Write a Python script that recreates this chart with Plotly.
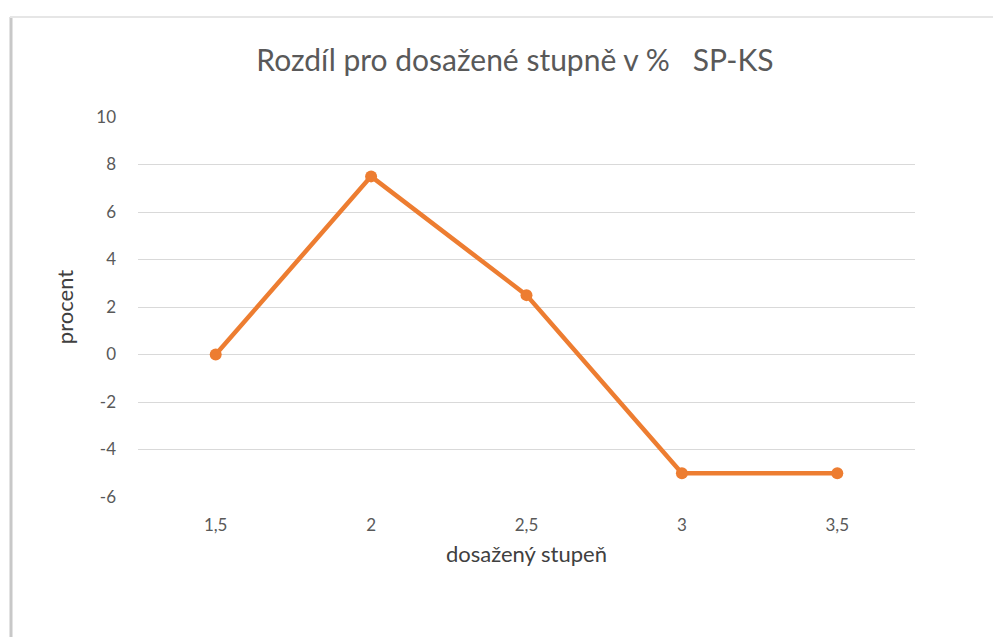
import plotly.graph_objects as go

categories = ["1,5", "2", "2,5", "3", "3,5"]
values = [0, 7.5, 2.5, -5, -5]
y_ticks = [-6, -4, -2, 0, 2, 4, 6, 8, 10]
y_tick_labels = ["-6", "-4", "-2", "0", "2", "4", "6", "8", "10"]

title_text = "Rozdíl pro dosažené stupně v %\u00a0\u00a0\u00a0SP-KS"
FONT = "Lato"
GREY = "#595959"
DARK = "#404040"

# page has an 8px body margin; figure sized to fit the window
OFF = 8
W, H = 1001 - OFF, 637 - OFF
L, T = 138 - OFF, 117 - OFF
R = W - (915 - OFF)
B = H - (497 - OFF)
pw, ph = W - L - R, H - T - B


def px(x):
    return (x - OFF - L) / pw


def py(y):
    return (H - B - (y - OFF)) / ph


fig = go.Figure()
fig.add_trace(go.Scatter(
    x=categories, y=values, mode="lines+markers",
    line=dict(color="#ED7D31", width=4.5),
    marker=dict(color="#ED7D31", size=12),
    showlegend=False, hoverinfo="x+y",
))

fig.update_layout(
    width=W, height=H,
    margin=dict(l=L, r=R, t=T, b=B),
    paper_bgcolor="white", plot_bgcolor="white",
    font=dict(family=FONT, color=GREY, size=17),
    title=dict(text=title_text, x=(515 - OFF) / W, xanchor="center",
               y=1 - (60 - OFF) / H, yanchor="middle",
               font=dict(size=30, color=GREY, family=FONT)),
    xaxis=dict(type="category", range=[-0.5, 4.5], showgrid=False, zeroline=False,
               showline=False, ticks="", ticklabelstandoff=16,
               tickfont=dict(size=17, color=GREY),
               title=dict(text="dosažený stupeň", standoff=12,
                          font=dict(size=22, color=DARK))),
    yaxis=dict(range=[-6, 10], tickvals=y_ticks, ticktext=y_tick_labels,
               showgrid=True, gridcolor="#d9d9d9", gridwidth=1.4,
               zeroline=False, showline=False, ticks="", ticklabelstandoff=21,
               tickfont=dict(size=17, color=GREY),
               title=dict(text="procent", standoff=16,
                          font=dict(size=22, color=DARK))),
    shapes=[
        dict(type="line", xref="paper", yref="paper", x0=px(11), x1=px(11),
             y0=py(17), y1=py(660), line=dict(color="#c8c8c8", width=3)),
        dict(type="line", xref="paper", yref="paper", x0=px(10), x1=px(1010),
             y0=py(17), y1=py(17), line=dict(color="#e6e6e6", width=2)),
    ],
)

fig.write_html("out.html")
